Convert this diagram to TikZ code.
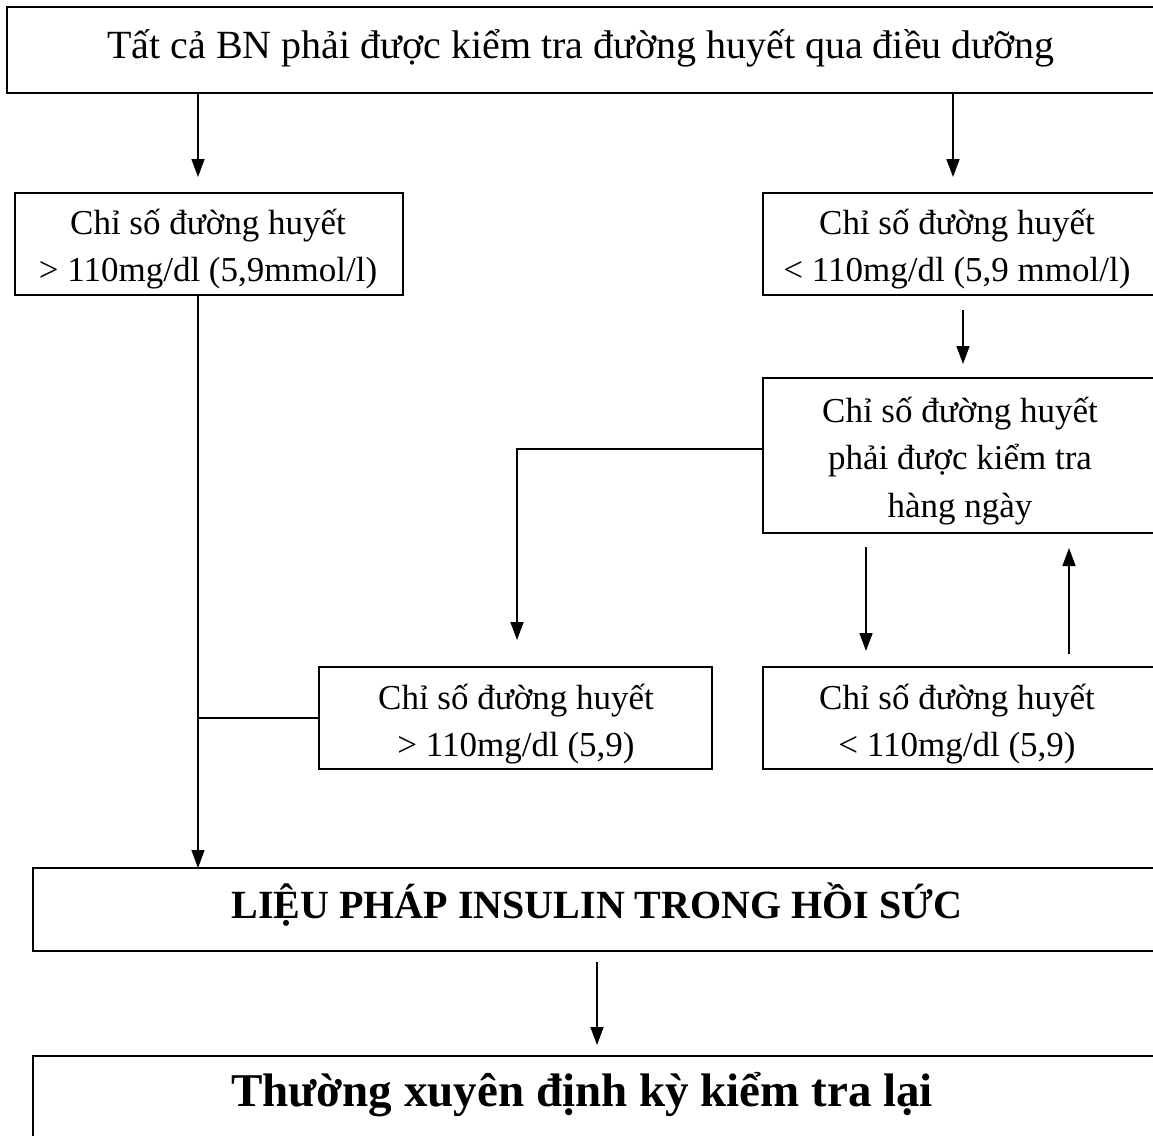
\documentclass[tikz,border=0pt]{standalone}
\usepackage{fontspec}
\setmainfont{Liberation Serif}
\usetikzlibrary{arrows.meta}
\tikzset{
  box/.style={draw=black, line width=2pt, inner sep=0pt, outer sep=0pt, anchor=north west, rectangle},
  txt/.style={anchor=base, inner sep=0pt, outer sep=0pt, align=center, font=\fontsize{35}{47.5}\selectfont},
  bigtxt/.style={anchor=base, inner sep=0pt, outer sep=0pt, font=\fontsize{40}{48}\selectfont},
  boldtxt/.style={anchor=base, inner sep=0pt, outer sep=0pt, font=\fontsize{40}{48}\selectfont\bfseries},
  hugetxt/.style={anchor=base, inner sep=0pt, outer sep=0pt, font=\fontsize{47}{56}\selectfont\bfseries},
  conn/.style={draw=black, line width=1.5pt},
  arr/.style={conn, -{Triangle[length=18pt,width=13pt]}}
}
\newcommand{\twolines}[2]{\begin{tabular}[t]{@{}c@{}}#1\\#2\end{tabular}}
\newcommand{\threelines}[3]{\begin{tabular}[t]{@{}c@{}}#1\\#2\\#3\end{tabular}}
\begin{document}
\begin{tikzpicture}[x=1pt,y=-1pt]
\useasboundingbox (0,0) rectangle (1153,1135);
\clip (0,0) rectangle (1153,1135);
\fill[white] (0,0) rectangle (1153,1135);

% boxes
\node[box, minimum width=1158pt, minimum height=86pt] (top) at (7,7) {};
\node[box, minimum width=388pt, minimum height=102pt] (L1) at (15,193) {};
\node[box, minimum width=402pt, minimum height=102pt] (R1) at (763,193) {};
\node[box, minimum width=402pt, minimum height=155pt] (R2) at (763,378) {};
\node[box, minimum width=393pt, minimum height=102pt] (M) at (319,667) {};
\node[box, minimum width=402pt, minimum height=102pt] (R3) at (763,667) {};
\node[box, minimum width=1132pt, minimum height=83pt] (ins) at (33,868) {};
\node[box, minimum width=1132pt, minimum height=100pt] (fin) at (33,1056) {};

% texts
\node[bigtxt] (topt) at (581,58) {Tất cả BN phải được kiểm tra đường huyết qua điều dưỡng};
\node[txt] (L1t) at (208,234) {\twolines{Chỉ số đường huyết}{> 110mg/dl (5,9mmol/l)}};
\node[txt] (R1t) at (957,234) {\twolines{Chỉ số đường huyết}{< 110mg/dl (5,9 mmol/l)}};
\node[txt] (R2t) at (960,422) {\threelines{Chỉ số đường huyết}{phải được kiểm tra}{hàng ngày}};
\node[txt] (Mt) at (516,709) {\twolines{Chỉ số đường huyết}{> 110mg/dl (5,9)}};
\node[txt] (R3t) at (957,709) {\twolines{Chỉ số đường huyết}{< 110mg/dl (5,9)}};
\node[boldtxt] (inst) at (597,918) {LIỆU PHÁP INSULIN TRONG HỒI SỨC};
\node[hugetxt] (fint) at (582,1106) {Thường xuyên định kỳ kiểm tra lại};

% coordinates
\coordinate (a1) at (198,177);
\coordinate (a2) at (953,177);
\coordinate (a3s) at (963,310);
\coordinate (a3e) at (963,364);
\coordinate (b1) at (517,449);
\coordinate (b2) at (517,640);
\coordinate (c1s) at (866,547);
\coordinate (c1e) at (866,651);
\coordinate (c2s) at (1069,654);
\coordinate (c2e) at (1069,548);
\coordinate (b3) at (198,718);
\coordinate (d1s) at (597,962);
\coordinate (d1e) at (597,1045);

% connectors
\draw[arr] (top.south -| a1) -- (a1);
\draw[arr] (top.south -| a2) -- (a2);
\draw[arr] (L1.south -| a1) -- (ins.north -| a1);
\draw[arr] (a3s) -- (a3e);
\draw[arr] (R2.west |- b1) -- (b1) -- (b2);
\draw[arr] (c1s) -- (c1e);
\draw[arr] (c2s) -- (c2e);
\draw[conn] (M.west |- b3) -- (b3);
\draw[arr] (d1s) -- (d1e);
\end{tikzpicture}
\end{document}
